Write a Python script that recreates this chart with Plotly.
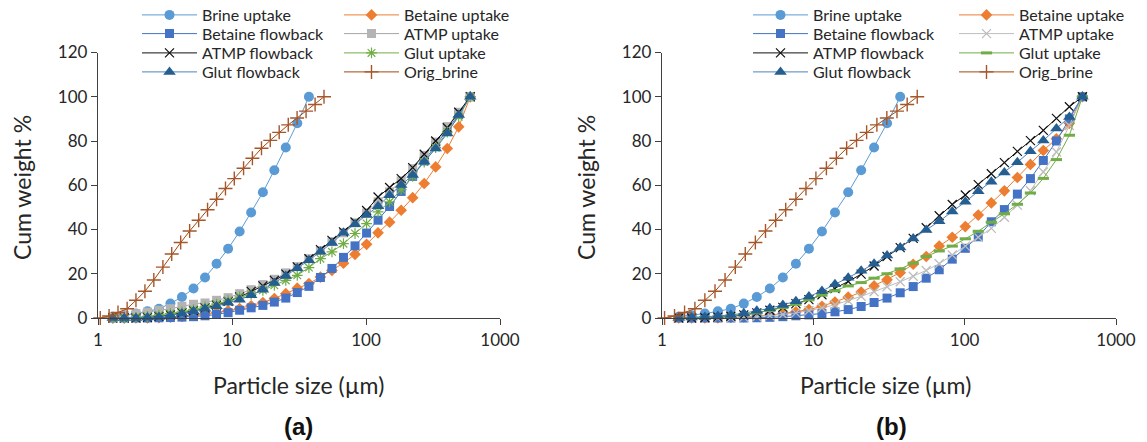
import plotly.graph_objects as go

# ---------------- data ----------------
sizes = [1.29, 1.57, 1.92, 2.34, 2.85, 3.47, 4.23, 5.16, 6.29, 7.67, 9.35, 11.4, 13.9, 17.0,
         20.7, 25.2, 30.7, 37.5, 45.7, 55.7, 67.9, 82.8, 101, 123, 150, 183, 223, 272, 331,
         404, 492, 600]
brine_sizes = [1.29, 1.57, 1.92, 2.34, 2.85, 3.47, 4.23, 5.16, 6.29, 7.67, 9.35, 11.4, 13.9,
               17.0, 20.7, 25.2, 30.7, 37.5]
orig_sizes = [1.04, 1.21, 1.41, 1.65, 1.92, 2.24, 2.61, 3.05, 3.55, 4.14, 4.83, 5.64, 6.57,
              7.67, 8.94, 10.4, 12.2, 14.2, 16.6, 19.3, 22.5, 26.3, 30.6, 35.7, 41.7, 48.6]

brine_uptake = [0.6, 1.2, 2.0, 3.0, 4.2, 6.5, 9.5, 13.3, 18.3, 24.5, 31.3, 39.1, 47.7, 56.8,
                66.8, 77.1, 88.0, 100]
orig_brine = [0, 0.9, 2.5, 4.2, 8.0, 12.1, 17.2, 23.0, 28.9, 34.1, 39.3, 44.2, 48.9, 53.7,
              58.5, 63.0, 67.7, 72.2, 76.7, 80.3, 83.9, 87.3, 90.4, 93.5, 96.5, 100]

# panel (a)
a_betaine_uptake = [0, 0, 0, 0, 0.2, 0.4, 0.7, 1.2, 1.8, 2.5, 3.3, 4.3, 5.5, 7.0, 8.8, 11.0,
                    13.5, 15.6, 18.5, 21.5, 24.8, 28.8, 33.3, 38.5, 43.3, 48.7, 54.4, 60.8,
                    68.3, 76.6, 86.4, 100]
a_betaine_flowback = [0, 0, 0, 0, 0.1, 0.2, 0.4, 0.6, 1.0, 1.6, 2.4, 3.5, 4.6, 5.7, 7.2, 9.0,
                      11.5, 14.3, 18.3, 22.4, 27.4, 32.6, 38.4, 44.2, 50.4, 57.2, 64, 71, 78,
                      85, 92, 100]
a_atmp_uptake = [0.5, 1.2, 2.0, 2.6, 3.5, 4.2, 5.3, 6.2, 6.8, 8.0, 9.2, 11.0, 12.8, 15.1, 17.5,
                 20.4, 23.2, 26.8, 30.5, 34.5, 38.5, 43, 47.5, 52.5, 57, 62, 67.5, 73.5, 79.5,
                 86.5, 93, 100]
a_atmp_flowback = [0, 0, 0, 0.3, 0.7, 1.4, 2.3, 3.3, 4.6, 5.8, 7.5, 9.5, 12.0, 14.5, 17.0,
                   19.8, 23.1, 26.8, 30.9, 35.1, 38.9, 43.4, 48.6, 54.7, 59, 63, 68, 74, 80,
                   86, 93, 100]
a_glut_uptake = [0, 0, 0.3, 0.7, 1.3, 2.0, 2.8, 3.8, 5.0, 6.3, 7.8, 9.5, 10.7, 12.5, 14.8,
                 17.0, 19.3, 22.8, 26.8, 29.9, 33.6, 38.2, 42.7, 48, 52.5, 58, 64, 70.5, 77,
                 84, 91, 100]
a_glut_flowback = [0, 0, 0, 0.2, 0.5, 1.1, 2.0, 3.0, 4.2, 5.3, 6.9, 8.3, 10.3, 12.8, 15.8,
                   19.0, 22.5, 26.1, 29.9, 33.9, 38.5, 42.4, 46.5, 50.5, 55.5, 60.1, 64.6,
                   70.6, 76.6, 83.4, 91.7, 100]

# panel (b)
b_betaine_uptake = [0, 0, 0, 0.1, 0.3, 0.5, 0.8, 1.3, 2.0, 2.8, 3.8, 5.3, 7.2, 9.4, 11.7,
                    14.5, 17.3, 20.5, 24.3, 27.8, 32.5, 36.5, 41.3, 46.5, 52, 57.5, 63.5,
                    69.4, 75.7, 81, 88, 100]
b_betaine_flowback = [0, 0, 0, 0, 0, 0, 0.1, 0.3, 0.6, 1.0, 1.4, 2.0, 2.8, 3.8, 5.2, 7.0, 9.0,
                      11.4, 14.2, 18.0, 21.8, 26.6, 31.5, 36.7, 43.5, 49, 56, 63, 71.2, 80,
                      90, 100]
b_atmp_uptake = [0, 0, 0, 0, 0.1, 0.3, 0.6, 1.0, 1.6, 2.3, 3.3, 4.5, 6.0, 7.8, 9.8, 11.9,
                 14.1, 16.4, 18.9, 21.5, 24.5, 28.5, 32.5, 36.5, 40.5, 45.5, 51, 57.5, 66,
                 75, 87, 100]
b_atmp_flowback = [0, 0, 0.1, 0.4, 0.8, 1.4, 2.3, 3.5, 4.8, 6.5, 8.3, 10.5, 13.3, 16.5, 19.8,
                   23.5, 27.8, 31.8, 36, 40.8, 46.2, 51.3, 55.6, 60.3, 65.2, 70.2, 75.3, 80.2,
                   84.8, 90.2, 95.5, 100]
b_glut_uptake = [0, 0, 0.2, 0.5, 0.9, 1.5, 2.3, 3.4, 4.7, 6.2, 8.2, 10.3, 12.3, 14.5, 16.0,
                 18.0, 20.0, 22.2, 24.8, 27.8, 30.3, 32.5, 35.8, 39.2, 43.3, 47.1, 51.4, 56.5,
                 63.1, 71.6, 82.6, 100]
b_glut_flowback = [0, 0.2, 0.5, 0.9, 1.4, 2.1, 3.3, 4.4, 5.9, 7.6, 9.7, 12.2, 15.2, 18.2,
                   21.3, 24.5, 28.2, 31.9, 35.9, 39.8, 43.7, 48.1, 52.5, 57.3, 61.6, 65.8,
                   70.4, 75.4, 80.2, 85.7, 90.8, 100]

# ---------------- styles ----------------
FONT = "Lato"
TXT = "#262626"

def style(name, panel):
    s = {
        "Brine uptake": dict(line="#5B9BD5", mcol="#5B9BD5", sym="circle", size=10, lw=0),
        "Betaine uptake": dict(line="#ED7D31", mcol="#ED7D31", sym="diamond", size=9, lw=0),
        "Betaine flowback": dict(line="#4472C4", mcol="#4472C4", sym="square", size=9, lw=0),
        "ATMP uptake": (dict(line="#A5A5A5", mcol="#B4B4B4", sym="square", size=9, lw=0)
                        if panel == "a" else
                        dict(line="#BDBDBD", mcol="#BDBDBD", sym="x-thin-open", size=9, lw=1.3)),
        "ATMP flowback": dict(line="#111111", mcol="#111111", sym="x-thin-open", size=9, lw=1.2),
        "Glut uptake": (dict(line="#70AD47", mcol="#70AD47", sym="asterisk-open", size=9, lw=1.2)
                        if panel == "a" else
                        dict(line="#70AD47", mcol="#70AD47", sym="line-ew-open", size=8, lw=3)),
        "Glut flowback": dict(line="#4F81BD", mcol="#255E91", sym="triangle-up", size=11, lw=0),
        "Orig_brine": dict(line="#9E480E", mcol="#A5562A", sym="cross-thin-open", size=10, lw=1.4),
    }
    return s[name]

W, H = 1147, 442
def px(x):
    return x / W
def py(y):
    return 1 - y / H

fig = go.Figure()

# legend layout (pixel positions of each legend box)
leg_cols = {"a": (137, 339), "b": (748, 954)}
leg_rows = [15, 33.7, 53, 72]
legend_common = dict(orientation="v", xanchor="left", yanchor="middle", bgcolor="rgba(0,0,0,0)",
                     font=dict(family=FONT, size=16, color=TXT), itemwidth=55,
                     tracegroupgap=0, borderwidth=0)
legends = {}

def add_panel(panel, series, xa, ya, start):
    for i, (name, xs, ys) in enumerate(series):
        st = style(name, panel)
        lid = "legend" if start + i == 1 else "legend%d" % (start + i)
        legends[lid] = dict(x=px(leg_cols[panel][i % 2]), y=py(leg_rows[i // 2]), **legend_common)
        fig.add_trace(go.Scatter(
            x=xs, y=ys, name=name, mode="lines+markers",
            xaxis=xa, yaxis=ya, cliponaxis=False, legend=lid,
            line=dict(color=st["line"], width=1),
            marker=dict(symbol=st["sym"], size=st["size"], color=st["mcol"],
                        line=dict(color=st["mcol"], width=st["lw"])),
        ))

series_a = [
    ("Brine uptake", brine_sizes, brine_uptake),
    ("Betaine uptake", sizes, a_betaine_uptake),
    ("Betaine flowback", sizes, a_betaine_flowback),
    ("ATMP uptake", sizes, a_atmp_uptake),
    ("ATMP flowback", sizes, a_atmp_flowback),
    ("Glut uptake", sizes, a_glut_uptake),
    ("Glut flowback", sizes, a_glut_flowback),
    ("Orig_brine", orig_sizes, orig_brine),
]
series_b = [
    ("Brine uptake", brine_sizes, brine_uptake),
    ("Betaine uptake", sizes, b_betaine_uptake),
    ("Betaine flowback", sizes, b_betaine_flowback),
    ("ATMP uptake", sizes, b_atmp_uptake),
    ("ATMP flowback", sizes, b_atmp_flowback),
    ("Glut uptake", sizes, b_glut_uptake),
    ("Glut flowback", sizes, b_glut_flowback),
    ("Orig_brine", orig_sizes, orig_brine),
]
add_panel("a", series_a, "x", "y", 1)
add_panel("b", series_b, "x2", "y2", 9)

ydom = [py(318), py(52.5)]
xaxis_common = dict(
    type="log", range=[0, 3], tickvals=[1, 10, 100, 1000], ticktext=["1", "10", "100", "1000"],
    showgrid=False, zeroline=False, showline=True, linecolor="#404040", linewidth=1.3,
    ticks="outside", ticklen=6, tickcolor="#404040", automargin=False,
    tickfont=dict(family=FONT, size=17, color=TXT),
)
yaxis_common = dict(
    range=[0, 120], tickvals=[0, 20, 40, 60, 80, 100, 120], showgrid=False, zeroline=False,
    showline=True, linecolor="#404040", linewidth=1.3, ticks="outside", ticklen=6,
    tickcolor="#404040", automargin=False, tickfont=dict(family=FONT, size=17, color=TXT),
    domain=ydom,
)

fig.update_layout(
    width=W, height=H, autosize=False, margin=dict(l=0, r=0, t=0, b=0, autoexpand=False),
    paper_bgcolor="white", plot_bgcolor="white",
    xaxis=dict(domain=[px(98), px(500)], anchor="y", **xaxis_common),
    yaxis=dict(anchor="x", **yaxis_common),
    xaxis2=dict(domain=[px(662), px(1116)], anchor="y2", **xaxis_common),
    yaxis2=dict(anchor="x2", **yaxis_common),
    showlegend=True,
    **legends,
)

ann = []
for xc in (298, 885):
    ann.append(dict(text="Particle size (µm)", x=px(xc), y=py(385), xref="paper", yref="paper",
                    xanchor="center", yanchor="middle", showarrow=False,
                    font=dict(family=FONT, size=23, color=TXT)))
for xc in (22, 586):
    ann.append(dict(text="Cum weight %", x=px(xc), y=py(188), xref="paper", yref="paper",
                    xanchor="center", yanchor="middle", showarrow=False, textangle=-90,
                    font=dict(family=FONT, size=23, color=TXT)))
for xc, t in ((298, "(a)"), (891, "(b)")):
    ann.append(dict(text="<b>" + t + "</b>", x=px(xc), y=py(426), xref="paper", yref="paper",
                    xanchor="center", yanchor="middle", showarrow=False,
                    font=dict(family="Liberation Sans", size=24, color="#111111")))
fig.update_layout(annotations=ann)

fig.write_html("out.html")
